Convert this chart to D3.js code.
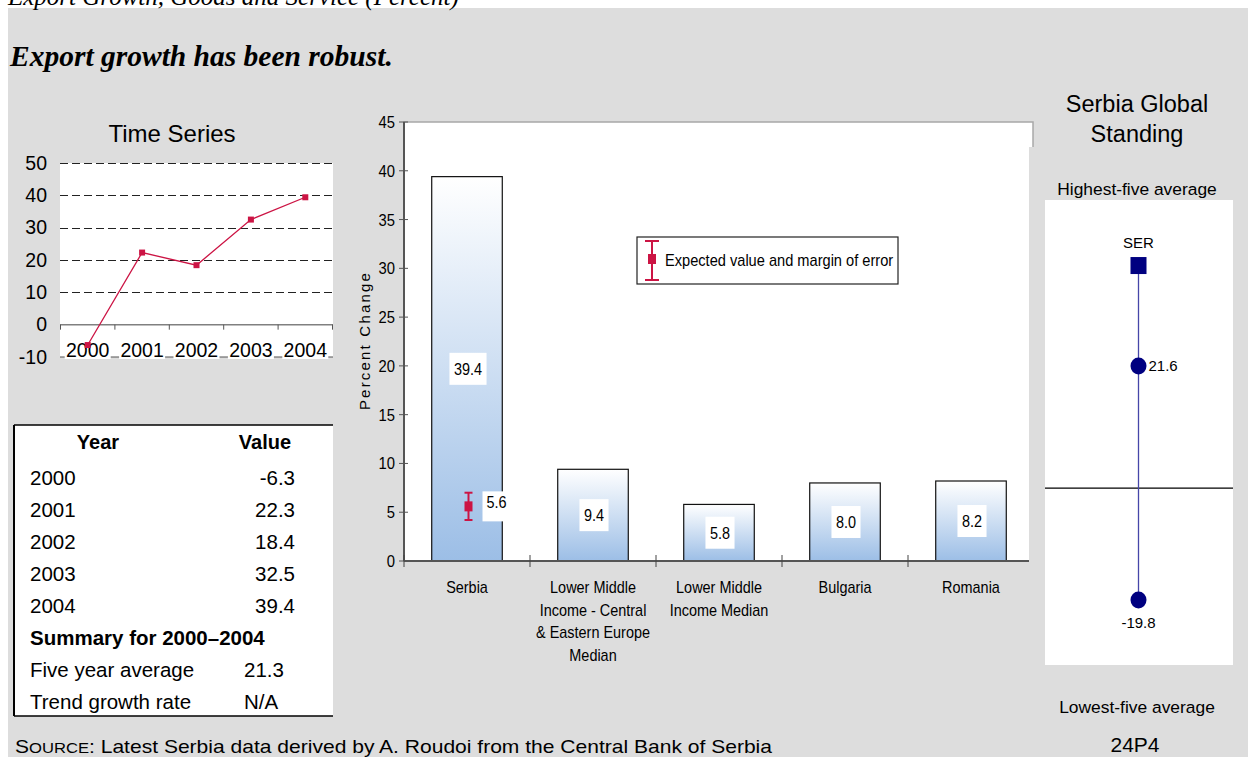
<!DOCTYPE html>
<html>
<head>
<meta charset="utf-8">
<script src="https://cdn.jsdelivr.net/npm/d3@7"></script>
<style>
  html, body { margin: 0; padding: 0; background: #ffffff; }
  svg { display: block; }
  text { font-family: Arial, "Liberation Sans", sans-serif; fill: #000; }
</style>
</head>
<body>
<svg id="chart" width="1248" height="757"></svg>
<script>
// ---- data ----
const years = ["2000", "2001", "2002", "2003", "2004"];
const yearValues = [-6.3, 22.3, 18.4, 32.5, 39.4];
const timeTicks = [-10, 0, 10, 20, 30, 40, 50];

const summaryLabels = ["Five year average", "Trend growth rate"];
const summaryValues = ["21.3", "N/A"];

const categories = ["Serbia", "LMI-ECA", "LMI", "Bulgaria", "Romania"];
const categoryLabels = [
  ["Serbia"],
  ["Lower Middle", "Income - Central", "& Eastern Europe", "Median"],
  ["Lower Middle", "Income Median"],
  ["Bulgaria"],
  ["Romania"]
];
const barValues = [39.4, 9.4, 5.8, 8.0, 8.2];
const barTicks = [0, 5, 10, 15, 20, 25, 30, 35, 40, 45];

const expectedValue = 5.6;
const expectedRange = [4.2, 7.0];

const standingLabel = "SER";
const standingSerbia = 39.4;
const standingHigh = 21.6;
const standingLow = -19.8;

// ---- helpers ----
const svg = d3.select("#chart");
const red = "#cc1444";
const navy = "#000080";
// one decimal, plain hyphen for negatives
const fmt = v => d3.format(".1f")(v).replace("\u2212", "-");
const fmtInt = v => String(v);
// condensed label: regular face squeezed horizontally
const NARROW = 0.87;
function condensed(parent, x, y, txt, size, anchor) {
  const g = parent.append("g").attr("transform", `translate(${x},${y}) scale(${NARROW},1)`);
  const t = g.append("text").attr("text-anchor", anchor || "start").style("font-size", size + "px").text(txt);
  return { g, t };
}

// page background
svg.append("rect").attr("x", 8).attr("y", 8).attr("width", 1240).attr("height", 749).attr("fill", "#dddddd");

// header lines
svg.append("text").attr("x", 8).attr("y", 5)
  .style("font-family", "'Liberation Serif', 'Times New Roman', serif")
  .style("font-style", "italic").style("font-size", "25px")
  .text("Export Growth, Goods and Service (Percent)");

svg.append("text").attr("x", 10).attr("y", 66)
  .style("font-family", "'Liberation Serif', 'Times New Roman', serif")
  .style("font-style", "italic").style("font-weight", "bold").style("font-size", "29.5px")
  .text("Export growth has been robust.");

// ---- time series ----
const ts = svg.append("g");
const tx = d3.scaleBand().domain(years).range([60.5, 332.5]);
const ty = d3.scaleLinear().domain([-10, 50]).range([357, 163]);

ts.append("text").attr("x", 172).attr("y", 142).attr("text-anchor", "middle")
  .style("font-size", "24px").text("Time Series");

ts.append("rect").attr("x", 60).attr("y", ty(50)).attr("width", 273).attr("height", ty(-10) - ty(50))
  .attr("fill", "#ffffff");

ts.selectAll("line.grid").data(timeTicks.filter(d => d > 0)).join("line")
  .attr("x1", 60).attr("x2", 333)
  .attr("y1", d => Math.round(ty(d)) + 0.5).attr("y2", d => Math.round(ty(d)) + 0.5)
  .attr("stroke", "#222").attr("stroke-dasharray", "8,4");

ts.append("line").attr("x1", 60).attr("x2", 333).attr("y1", ty(-10)).attr("y2", ty(-10))
  .attr("stroke", "#555").attr("stroke-width", 1.2);

ts.append("line").attr("x1", 60).attr("x2", 333).attr("y1", ty(0)).attr("y2", ty(0))
  .attr("stroke", "#808080").attr("stroke-width", 1.5);

const tBounds = years.map(y => tx(y)).concat([tx.range()[1]]);
ts.selectAll("line.tick").data(tBounds).join("line")
  .attr("x1", d => d).attr("x2", d => d).attr("y1", ty(0)).attr("y2", ty(0) + 5)
  .attr("stroke", "#555");

const tsAxis = d3.axisLeft(ty).tickValues(timeTicks).tickFormat(fmtInt).tickSize(0).tickPadding(0);
const tsAxisG = ts.append("g").attr("transform", "translate(47,0)").call(tsAxis);
tsAxisG.select(".domain").remove();
tsAxisG.selectAll("text").style("font-size", "19.5px").attr("fill", "#000");

// year labels sit on white boxes along the bottom edge
const yl = ts.selectAll("g.yl").data(years).join("g")
  .attr("transform", d => `translate(${tx(d) + tx.bandwidth() / 2},${ty(-10)})`);
yl.append("rect").attr("x", -23).attr("y", -15).attr("width", 46).attr("height", 17).attr("fill", "#ffffff");
yl.append("text").attr("text-anchor", "middle").attr("y", 0).style("font-size", "19.5px").text(d => d);

const tsLine = d3.line().x((d, i) => tx(years[i]) + tx.bandwidth() / 2).y(d => ty(d));
ts.append("path").datum(yearValues).attr("d", tsLine).attr("fill", "none").attr("stroke", red).attr("stroke-width", 1.3);
ts.selectAll("rect.pt").data(yearValues).join("rect")
  .attr("x", (d, i) => tx(years[i]) + tx.bandwidth() / 2 - 3)
  .attr("y", d => ty(d) - 3).attr("width", 6).attr("height", 6).attr("fill", red);

// ---- table ----
const tb = svg.append("g");
tb.append("rect").attr("x", 14).attr("y", 425).attr("width", 319).attr("height", 291).attr("fill", "#ffffff");
tb.append("line").attr("x1", 14).attr("x2", 333).attr("y1", 425).attr("y2", 425).attr("stroke", "#000").attr("stroke-width", 1.5);
tb.append("line").attr("x1", 14).attr("x2", 333).attr("y1", 716).attr("y2", 716).attr("stroke", "#000").attr("stroke-width", 1.5);
tb.append("line").attr("x1", 14).attr("x2", 14).attr("y1", 425).attr("y2", 716).attr("stroke", "#000").attr("stroke-width", 2);

const fs = "20.5px";
const rowY = i => 478 + i * 32 + 7;
tb.append("text").attr("x", 98).attr("y", 449).attr("text-anchor", "middle")
  .style("font-size", "20px").style("font-weight", "bold").text("Year");
tb.append("text").attr("x", 265).attr("y", 449).attr("text-anchor", "middle")
  .style("font-size", "20px").style("font-weight", "bold").text("Value");

years.forEach((y, i) => {
  tb.append("text").attr("x", 30).attr("y", rowY(i)).style("font-size", fs).text(y);
  tb.append("text").attr("x", 295).attr("y", rowY(i)).attr("text-anchor", "end")
    .style("font-size", fs).text(fmt(yearValues[i]));
});
tb.append("text").attr("x", 30).attr("y", rowY(5)).style("font-size", fs).style("font-weight", "bold")
  .text(`Summary for ${years[0]}\u2013${years[years.length - 1]}`);
summaryLabels.forEach((s, i) => {
  tb.append("text").attr("x", 30).attr("y", rowY(6 + i)).style("font-size", fs).text(s);
  tb.append("text").attr("x", 244).attr("y", rowY(6 + i)).style("font-size", fs).text(summaryValues[i]);
});

// ---- bar chart ----
const bc = svg.append("g");
const bx = d3.scaleBand().domain(categories).range([404, 1034]).paddingInner(0.44).paddingOuter(0.22);
const bxOuter = d3.scaleBand().domain(categories).range([404, 1034]);
const by = d3.scaleLinear().domain([0, 45]).range([561, 122]);

const defs = svg.append("defs");
const grad = defs.append("linearGradient").attr("id", "barFill").attr("x1", 0).attr("y1", 0).attr("x2", 0).attr("y2", 1);
grad.append("stop").attr("offset", "0%").attr("stop-color", "#ffffff");
grad.append("stop").attr("offset", "100%").attr("stop-color", "#9cbee6");

bc.append("rect").attr("x", 404).attr("y", by(45)).attr("width", 629).attr("height", by(0) - by(45))
  .attr("fill", "#ffffff").attr("stroke", "#a8a8a8").attr("stroke-width", 1.5);

bc.selectAll("rect.bar").data(barValues).join("rect")
  .attr("x", (d, i) => bx(categories[i])).attr("width", bx.bandwidth())
  .attr("y", d => by(d)).attr("height", d => by(0) - by(d))
  .attr("fill", "url(#barFill)").attr("stroke", "#111").attr("stroke-width", 1.2);

// axes
bc.append("line").attr("x1", 404).attr("x2", 404).attr("y1", by(45)).attr("y2", by(0))
  .attr("stroke", "#555").attr("stroke-width", 2);
bc.append("line").attr("x1", 404).attr("x2", 1034).attr("y1", by(0)).attr("y2", by(0))
  .attr("stroke", "#555").attr("stroke-width", 2);
bc.selectAll("line.ytick").data(barTicks).join("line")
  .attr("x1", 399).attr("x2", 408).attr("y1", d => by(d)).attr("y2", d => by(d)).attr("stroke", "#555");
const bBounds = categories.map(c => bxOuter(c)).concat([bxOuter.range()[1]]);
bc.selectAll("line.xtick").data(bBounds).join("line")
  .attr("x1", d => d).attr("x2", d => d).attr("y1", by(0) - 6).attr("y2", by(0) + 6).attr("stroke", "#444");

const bAxis = d3.axisLeft(by).tickValues(barTicks).tickSize(0).tickPadding(0);
const bAxisG = bc.append("g").attr("transform", "translate(395,0)").call(bAxis);
bAxisG.select(".domain").remove();
bAxisG.selectAll("text").style("font-size", "17px").attr("fill", "#000")
  .attr("transform", `scale(${NARROW},1)`);

bc.append("text").attr("transform", `translate(370,${(by(0) + by(45)) / 2 - 1}) rotate(-90)`)
  .attr("text-anchor", "middle").style("font-size", "15px").style("letter-spacing", "2.2px")
  .text("Percent Change");

// category labels
categoryLabels.forEach((lines, i) => {
  const cx = bxOuter(categories[i]) + bxOuter.bandwidth() / 2;
  lines.forEach((ln, j) => {
    condensed(bc, cx, 593 + j * 22.5, ln, 16.6, "middle");
  });
});

// value labels at mid-bar on white boxes
barValues.forEach((v, i) => {
  const cx = bx(categories[i]) + bx.bandwidth() / 2 + 1;
  const cy = by(v / 2);
  const g = bc.append("g").attr("transform", `translate(${cx},${cy})`);
  const c = condensed(g, 0, 0, fmt(v), 16.6, "middle");
  c.t.attr("dy", "0.36em");
  const w = c.t.node().getComputedTextLength() * NARROW + 9;
  g.insert("rect", "g").attr("x", -w / 2).attr("y", -16).attr("width", w).attr("height", 32).attr("fill", "#ffffff");
});

// expected value with margin of error (Serbia)
const ex = bx(categories[0]) + bx.bandwidth() / 2 + 1.5;
bc.append("line").attr("x1", ex).attr("x2", ex).attr("y1", by(expectedRange[0])).attr("y2", by(expectedRange[1]))
  .attr("stroke", red).attr("stroke-width", 2);
[expectedRange[0], expectedRange[1]].forEach(v => {
  bc.append("line").attr("x1", ex - 4).attr("x2", ex + 4).attr("y1", by(v)).attr("y2", by(v))
    .attr("stroke", red).attr("stroke-width", 2);
});
bc.append("rect").attr("x", ex - 4).attr("y", by(expectedValue) - 5).attr("width", 8).attr("height", 10).attr("fill", red);
{
  const g = bc.append("g").attr("transform", `translate(${ex + 14},${by(expectedValue)})`);
  const c = condensed(g, 4, 0, fmt(expectedValue), 16.6, "start");
  c.t.attr("dy", "0.1em");
  const w = c.t.node().getComputedTextLength() * NARROW + 8;
  g.insert("rect", "g").attr("x", 0).attr("y", -15).attr("width", w).attr("height", 30).attr("fill", "#ffffff");
}

// legend
const lg = bc.append("g");
lg.append("rect").attr("x", 637).attr("y", 237).attr("width", 261).attr("height", 47)
  .attr("fill", "#ffffff").attr("stroke", "#222").attr("stroke-width", 1.2);
lg.append("line").attr("x1", 652).attr("x2", 652).attr("y1", 241).attr("y2", 280).attr("stroke", red).attr("stroke-width", 2);
lg.append("line").attr("x1", 645).attr("x2", 659).attr("y1", 241).attr("y2", 241).attr("stroke", red).attr("stroke-width", 2);
lg.append("line").attr("x1", 645).attr("x2", 659).attr("y1", 280).attr("y2", 280).attr("stroke", red).attr("stroke-width", 2);
lg.append("rect").attr("x", 648).attr("y", 254).attr("width", 8).attr("height", 10).attr("fill", red);
condensed(lg, 665, 265.5, "Expected value and margin of error", 16.8, "start");

// ---- global standing panel ----
const gp = svg.append("g");
gp.append("rect").attr("x", 1029).attr("y", 147).attr("width", 219).attr("height", 610).attr("fill", "#dddddd");
gp.append("text").attr("x", 1137).attr("y", 112).attr("text-anchor", "middle").style("font-size", "23.5px").text("Serbia Global");
gp.append("text").attr("x", 1137).attr("y", 142).attr("text-anchor", "middle").style("font-size", "23.5px").text("Standing");
gp.append("text").attr("x", 1137).attr("y", 195).attr("text-anchor", "middle").style("font-size", "17.4px").text("Highest-five average");
gp.append("text").attr("x", 1137).attr("y", 713).attr("text-anchor", "middle").style("font-size", "17.4px").text("Lowest-five average");

gp.append("rect").attr("x", 1045).attr("y", 200).attr("width", 188).attr("height", 465).attr("fill", "#ffffff");
const sy = d3.scaleLinear().domain([-31.3, 51]).range([665, 200]);
const sx = 1138.5;
gp.append("line").attr("x1", 1045).attr("x2", 1233).attr("y1", sy(0)).attr("y2", sy(0)).attr("stroke", "#000").attr("stroke-width", 1.3);
gp.append("line").attr("x1", sx).attr("x2", sx).attr("y1", sy(standingSerbia)).attr("y2", sy(standingLow))
  .attr("stroke", "#4646a8").attr("stroke-width", 1.3);
gp.append("rect").attr("x", sx - 8).attr("y", sy(standingSerbia) - 8.5).attr("width", 16).attr("height", 17).attr("fill", navy);
gp.append("text").attr("x", sx).attr("y", sy(standingSerbia) - 18).attr("text-anchor", "middle").style("font-size", "15px").text(standingLabel);
gp.append("ellipse").attr("cx", sx).attr("cy", sy(standingHigh)).attr("rx", 8).attr("ry", 8.5).attr("fill", navy);
gp.append("text").attr("x", sx + 10).attr("y", sy(standingHigh) + 5).style("font-size", "15px").text(fmt(standingHigh));
gp.append("ellipse").attr("cx", sx).attr("cy", sy(standingLow)).attr("rx", 8).attr("ry", 8.5).attr("fill", navy);
gp.append("text").attr("x", sx).attr("y", sy(standingLow) + 28).attr("text-anchor", "middle").style("font-size", "15px").text(fmt(standingLow));

// ---- footer ----
const src = svg.append("text").attr("x", 15).attr("y", 753).style("font-size", "19px")
  .attr("textLength", 757).attr("lengthAdjust", "spacingAndGlyphs");
src.append("tspan").text("S");
src.append("tspan").style("font-size", "15px").text("OURCE");
src.append("tspan").text(": Latest Serbia data derived by A. Roudoi from the Central Bank of Serbia");
svg.append("text").attr("x", 1135).attr("y", 752).attr("text-anchor", "middle").style("font-size", "21px").text("24P4");
</script>
</body>
</html>
